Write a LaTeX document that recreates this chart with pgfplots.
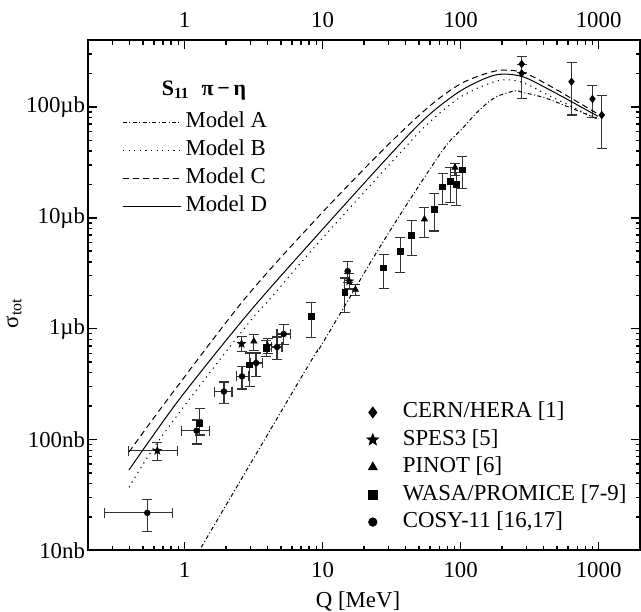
\documentclass[border=0pt]{standalone}
\usepackage{fontspec}
\setmainfont{Liberation Serif}
\usepackage{pgfplots}
\usepackage{pgfplotstable}
\pgfplotsset{compat=1.18}
\newcommand{\fs}{\fontsize{11.4}{13.5}\selectfont}

% filled five-pointed star for SPES3
\pgfdeclareplotmark{fstar}{%
  \pgfpathmoveto{\pgfpointpolar{90}{\pgfplotmarksize}}%
  \pgfpathlineto{\pgfpointpolar{126}{0.42\pgfplotmarksize}}%
  \pgfpathlineto{\pgfpointpolar{162}{\pgfplotmarksize}}%
  \pgfpathlineto{\pgfpointpolar{198}{0.42\pgfplotmarksize}}%
  \pgfpathlineto{\pgfpointpolar{234}{\pgfplotmarksize}}%
  \pgfpathlineto{\pgfpointpolar{270}{0.42\pgfplotmarksize}}%
  \pgfpathlineto{\pgfpointpolar{306}{\pgfplotmarksize}}%
  \pgfpathlineto{\pgfpointpolar{342}{0.42\pgfplotmarksize}}%
  \pgfpathlineto{\pgfpointpolar{18}{\pgfplotmarksize}}%
  \pgfpathlineto{\pgfpointpolar{54}{0.42\pgfplotmarksize}}%
  \pgfpathclose
  \pgfusepathqfillstroke}

% data: Q [MeV], sigma [mub], errors
\pgfplotstableread{
x y ep em
277 244 40 40
277 201 40 81
636 169 84 84.5
902 118 38 38
1054 84.5 41.5 42.3
}\cernhera
\pgfplotstableread{
x y ep em xp xm
0.635 0.0793 0.0144 0.0149 0.25 0.24
}\spesA
\pgfplotstableread{
x y ep em
2.59 0.731 0.121 0.108
4.0 0.70 0.12 0.10
15.6 2.68 0.45 0.40
}\spesB
\pgfplotstableread{
x y ep em
3.18 0.768 0.115 0.132
17.3 2.25 0.25 0.26
54.7 9.7 2.7 3.1
91.2 28.4 2.7 4.5
}\pinot
\pgfplotstableread{
x y ep em
1.29 0.140 0.049 0.030
2.96 0.472 0.13 0.17
3.9 0.66 0.12 0.10
8.30 1.29 0.44 0.46
14.5 2.13 0.74 0.74
27.7 3.54 1.13 1.25
36.5 4.94 1.67 1.75
44.3 6.99 2.49 2.42
64.6 11.9 4.6 4.3
74.3 19.0 6.1 5.8
84.0 21.2 7.2 7.5
92.9 20.1 5.5 7.2
103 27.0 8.7 8.5
}\wasa
\pgfplotstableread{
x y ep em xp xm
0.537 0.0218 0.0072 0.0071 0.277 0.275
1.223 0.120 0.030 0.029 0.30 0.27
1.93 0.271 0.059 0.061 0.28 0.28
2.61 0.371 0.085 0.086 0.28 0.24
3.30 0.490 0.113 0.120 0.35 0.30
4.68 0.683 0.158 0.158 0.40 0.40
5.23 0.895 0.19 0.18 0.62 0.55
}\cosyA
\pgfplotstableread{
x y ep em
15.2 3.30 0.76 0.71
}\cosyB

\pgfplotsset{
  errb/.style={/pgfplots/error bars/y dir=both, /pgfplots/error bars/y explicit,
    /pgfplots/error bars/error bar style={line width=0.6pt, black!80},
    /pgfplots/error bars/error mark options={rotate=90, black!80, line width=0.6pt, mark size=2.5pt}},
  errbx/.style={errb, /pgfplots/error bars/x dir=both, /pgfplots/error bars/x explicit},
}

\begin{document}
\begin{tikzpicture}[font=\fs]
\begin{axis}[
  scale only axis, width=276pt, height=255pt,
  xmode=log, ymode=log, xmin=0.2, xmax=2000, ymin=0.01, ymax=400,
  axis line style={line width=0.9pt},
  xtick={1,10,100,1000}, xticklabels={1,10,100,1000},
  minor xtick={0.3,0.4,0.5,0.6,0.7,0.8,0.9,2,3,4,5,6,7,8,9,20,30,40,50,60,70,80,90,200,300,400,500,600,700,800,900},
  ytick={0.01,0.1,1,10,100}, yticklabels={10nb,100nb,1µb,10µb,100µb},
  minor ytick={0.02,0.03,0.04,0.05,0.06,0.07,0.08,0.09,0.2,0.3,0.4,0.5,0.6,0.7,0.8,0.9,2,3,4,5,6,7,8,9,20,30,40,50,60,70,80,90,200,300},
  tick align=inside,
  major tick length=4.4pt, minor tick length=2.2pt,
  every tick/.style={line width=0.7pt, black},
  tick label style={font=\fs},
  label style={font=\fs},
  xticklabel style={yshift=-2.5pt},
  yticklabel style={xshift=2pt},
  xlabel={Q [MeV]},
  xlabel style={at={(axis description cs:0.489,-0.101)}, anchor=center},
  ylabel={σ\textsubscript{tot}},
  ylabel style={at={(axis description cs:-0.134,0.465)}, anchor=center},
  legend style={at={(axis description cs:0.504,0.298)}, anchor=north west,
    draw=none, fill=none, inner sep=0pt, row sep=0pt, font=\fs,
    nodes={text height=8pt, text depth=2.5pt, inner ysep=1.6pt}},
  legend cell align=left,
  legend image code/.code={\path (-0.1cm,0cm) (0.45cm,0cm); \draw[#1] plot coordinates {(0cm,0cm)};},
  legend image post style={mark options={scale=1.5}},
]
\coordinate (bl) at (rel axis cs:0,0);
\coordinate (tr) at (rel axis cs:1,1);

\addplot[only marks, black, mark=diamond*, mark size=1.8pt, errb]
  table[x=x, y=y, y error plus=ep, y error minus=em]{\cernhera};
\addlegendentry{CERN/HERA [1]}
\addplot[only marks, black, mark=fstar, mark size=2pt, errbx]
  table[x=x, y=y, y error plus=ep, y error minus=em, x error plus=xp, x error minus=xm]{\spesA};
\addlegendentry{SPES3 [5]}
\addplot[only marks, black, mark=fstar, mark size=2pt, forget plot, errb]
  table[x=x, y=y, y error plus=ep, y error minus=em]{\spesB};
\addplot[only marks, black, mark=triangle*, mark size=1.7pt, errb]
  table[x=x, y=y, y error plus=ep, y error minus=em]{\pinot};
\addlegendentry{PINOT [6]}
\addplot[only marks, black, mark=square*, mark size=1.45pt, errb]
  table[x=x, y=y, y error plus=ep, y error minus=em]{\wasa};
\addlegendentry{WASA/PROMICE [7-9]}
\addplot[only marks, black, mark=*, mark size=1.4pt, errbx]
  table[x=x, y=y, y error plus=ep, y error minus=em, x error plus=xp, x error minus=xm]{\cosyA};
\addlegendentry{COSY-11 [16,17]}
\addplot[only marks, black, mark=*, mark size=1.4pt, forget plot, errb]
  table[x=x, y=y, y error plus=ep, y error minus=em]{\cosyB};
\end{axis}

\begin{axis}[
  scale only axis, width=276pt, height=255pt,
  xmode=log, ymode=log, xmin=0.2, xmax=2000, ymin=0.01, ymax=400,
  axis line style={line width=0.9pt},
  hide y axis,
  xtick pos=right, xticklabel pos=right,
  xtick={1,10,100,1000}, xticklabels={1,10,100,1000},
  minor xtick={},
  xtick style={draw=none},
  tick label style={font=\fs},
  xticklabel style={yshift=2.7pt},
  legend style={at={(axis description cs:0.0616,0.867)}, anchor=north west,
    draw=none, fill=none, inner sep=0pt, row sep=0pt, font=\fs,
    nodes={text height=8pt, text depth=2.5pt, inner ysep=1.75pt}},
  legend cell align=left,
  legend image code/.code={\draw[#1] (0cm,0cm) -- (1.02cm,0cm);},
]
\addplot[smooth, black, line width=0.5pt, dash pattern=on 2pt off 1.2pt on 0.5pt off 1.2pt]
  coordinates {(1.2,0.0087) (1.27,0.0098) (7.94,0.472) (9.37,0.646) (18.2,2.59) (24.1,4.67)
  (38.6,11.9) (75.1,41.6) (102,63.1) (135,92.3) (178,122) (248,140) (277,136) (431,118) (992,77.6)};
\addlegendentry{Model A}
\addplot[smooth, black, line width=0.5pt, dash pattern=on 0.6pt off 2.2pt]
  coordinates {(0.396,0.0370) (0.584,0.0805) (1.076,0.228) (2.92,1.13) (4.12,1.83) (9.37,6.0)
  (38.6,41.6) (58.5,71.5) (102,125) (188,173) (277,167) (431,128) (992,77)};
\addlegendentry{Model B}
\addplot[smooth, black, line width=0.5pt, dash pattern=on 3pt off 2pt]
  coordinates {(0.396,0.0771) (0.750,0.228) (2.78,1.91) (9.37,10.3) (27.7,41.6) (58.5,99.8)
  (102,164) (182,212) (277,206) (431,158) (992,86.2)};
\addlegendentry{Model C}
\addplot[smooth, black, line width=0.5pt]
  coordinates {(0.396,0.0531) (0.911,0.228) (2.92,1.39) (9.37,7.2) (33.6,41.6) (58.5,84)
  (102,142) (177.5,194) (275,189) (431,145) (992,82.2)};
\addlegendentry{Model D}
\node[font=\fontsize{11}{13}\selectfont\bfseries] at (axis description cs:0.210,0.902)
  {S\textsubscript{11}\hspace{0.55em}π\,−\,η};
\end{axis}
\pgfresetboundingbox
\path[use as bounding box] ([xshift=-44pt,yshift=-30.8pt]bl) rectangle ([xshift=0.4pt,yshift=20.1pt]tr);
\end{tikzpicture}
\end{document}
